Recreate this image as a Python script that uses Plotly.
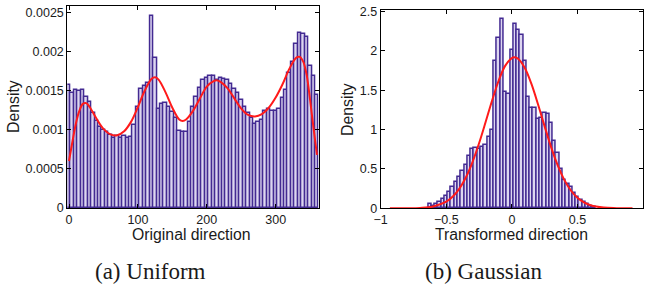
import plotly.graph_objects as go

# ---------------- data: (a) Uniform ----------------
uni_centers = list(range(0, 361, 5))
uni_density = [
    0.00157, 0.00147, 0.00151, 0.00149, 0.00151, 0.00142, 0.00136, 0.00121,
    0.00111, 0.00104, 0.00100, 0.00097, 0.00093, 0.00089, 0.00092, 0.00090,
    0.00092, 0.00089, 0.00091, 0.00106, 0.00129, 0.00152, 0.00156, 0.00160,
    0.00245, 0.00191, 0.00127, 0.00133, 0.00134, 0.00129, 0.00122, 0.00115,
    0.00098, 0.00097, 0.00097, 0.00110, 0.00129, 0.00142, 0.00153, 0.00163,
    0.00166, 0.00169, 0.00168, 0.00164, 0.00166, 0.00165, 0.00163, 0.00159,
    0.00152, 0.00147, 0.00138, 0.00129, 0.00121, 0.00115, 0.00107, 0.00110,
    0.00112, 0.00124, 0.00127, 0.00124, 0.00124, 0.00126, 0.00141, 0.00151,
    0.00173, 0.00187, 0.00210, 0.00223, 0.00222, 0.00219, 0.00181, 0.00168,
    0.00144,
]
uni_fit_x = [0, 5, 10, 15, 20, 25, 30, 40, 50, 60, 70, 80, 90, 100, 110, 120,
             125, 130, 140, 150, 160, 165, 170, 180, 190, 200, 210, 215, 220,
             230, 240, 250, 260, 270, 280, 290, 300, 310, 320, 330, 335, 340,
             345, 350, 355, 360]
uni_fit_y = [0.00060, 0.00085, 0.00108, 0.00124, 0.00133, 0.00134, 0.00129,
             0.00114, 0.00101, 0.00094, 0.00093, 0.00098, 0.00110, 0.00129,
             0.00150, 0.00165, 0.00167, 0.00164, 0.00148, 0.00128, 0.00113,
             0.00111, 0.00113, 0.00124, 0.00140, 0.00155, 0.00162, 0.00163,
             0.00161, 0.00153, 0.00140, 0.00127, 0.00119, 0.00117, 0.00120,
             0.00128, 0.00141, 0.00158, 0.00178, 0.00192, 0.00193, 0.00187,
             0.00170, 0.00138, 0.00102, 0.00068]
uni_yticks = [0, 0.0005, 0.001, 0.0015, 0.002, 0.0025]
uni_yticktext = ["0", "0.0005", "0.001", "0.0015", "0.002", "0.0025"]
uni_xticks = [0, 100, 200, 300]

# ---------------- data: (b) Gaussian ----------------
gau_centers = [-0.625, -0.600, -0.575, -0.550, -0.525, -0.500, -0.475, -0.450,
               -0.425, -0.400, -0.375, -0.350, -0.325, -0.300, -0.275, -0.250,
               -0.225, -0.200, -0.175, -0.150, -0.125, -0.100, -0.075, -0.050,
               -0.025, 0.000, 0.025, 0.050, 0.075, 0.100, 0.125, 0.150, 0.175,
               0.200, 0.225, 0.250, 0.275, 0.300, 0.325, 0.350, 0.375, 0.400,
               0.425, 0.450, 0.475, 0.500, 0.525, 0.550, 0.575, 0.600, 0.625]
gau_density = [0.055, 0.03, 0.05, 0.08, 0.12, 0.16, 0.21, 0.27, 0.33, 0.40,
               0.47, 0.55, 0.66, 0.76, 0.77, 0.76, 0.78, 0.80, 0.91, 0.99,
               1.87, 2.16, 2.40, 1.48, 1.45, 2.01, 2.34, 2.27, 2.20, 1.87,
               1.42, 1.27, 1.27, 1.14, 1.15, 1.21, 1.20, 1.08, 0.85, 0.70,
               0.50, 0.36, 0.31, 0.27, 0.20, 0.15, 0.11, 0.08, 0.05, 0.03, 0.02]
gau_fit_x = [-0.93, -0.8, -0.7, -0.6, -0.5, -0.45, -0.4, -0.35, -0.3, -0.25,
             -0.2, -0.15, -0.1, -0.05, 0.0, 0.02, 0.05, 0.1, 0.15, 0.2, 0.25,
             0.3, 0.35, 0.4, 0.45, 0.5, 0.55, 0.6, 0.7, 0.8, 0.92]
gau_fit_y = [0.0001, 0.0008, 0.005, 0.023, 0.084, 0.149, 0.250, 0.394, 0.587,
             0.826, 1.096, 1.373, 1.624, 1.813, 1.909, 1.918, 1.898, 1.781,
             1.578, 1.319, 1.041, 0.775, 0.545, 0.361, 0.226, 0.134, 0.075,
             0.039, 0.009, 0.002, 0.0001]
gau_yticks = [0, 0.5, 1, 1.5, 2, 2.5]
gau_yticktext = ["0", "0.5", "1", "1.5", "2", "2.5"]
gau_xticks = [-1, -0.5, 0, 0.5, 1]
gau_xticktext = ["\u22121", "\u22120.5", "0", "0.5", "1"]

# ---------------- styles ----------------
W, H = 645, 289
SANS = "Liberation Sans, Arial, sans-serif"
SERIF = "Liberation Serif, Times New Roman, serif"
EDGE = "#432a92"
FILL = "#ddd6f0"
RED = "#ff1a1a"
TXT = "#1a1a1a"

fig = go.Figure()

fig.add_trace(go.Bar(x=uni_centers, y=uni_density, width=5,
                     marker=dict(color=FILL, line=dict(color=EDGE, width=1.5)),
                     xaxis="x", yaxis="y", showlegend=False))
fig.add_trace(go.Scatter(x=uni_fit_x, y=uni_fit_y, mode="lines",
                         line=dict(color=RED, width=2, shape="spline"),
                         xaxis="x", yaxis="y", showlegend=False))
fig.add_trace(go.Bar(x=gau_centers, y=gau_density, width=0.025,
                     marker=dict(color=FILL, line=dict(color=EDGE, width=1.5)),
                     xaxis="x2", yaxis="y2", showlegend=False))
fig.add_trace(go.Scatter(x=gau_fit_x, y=gau_fit_y, mode="lines",
                         line=dict(color=RED, width=2, shape="spline"),
                         xaxis="x2", yaxis="y2", showlegend=False))


def px_x(p):
    return p / W


def px_y(p):
    return 1 - p / H


axis_common = dict(showline=True, linecolor="black", linewidth=1, mirror="ticks",
                   ticks="inside", ticklen=4, tickcolor="black", tickwidth=1,
                   showgrid=False, zeroline=False, automargin=False,
                   tickfont=dict(family=SANS, size=12.5, color=TXT))
title_font = dict(family=SANS, size=15.8, color=TXT)
cap_font = dict(family=SERIF, size=23, color=TXT)


def label(text, x, y, font, angle=0):
    return dict(text=text, x=px_x(x), y=px_y(y), xref="paper", yref="paper",
                showarrow=False, xanchor="center", yanchor="middle",
                textangle=angle, font=font, borderpad=0)


fig.update_layout(
    width=W, height=H, margin=dict(l=0, r=0, t=0, b=0),
    paper_bgcolor="white", plot_bgcolor="white", bargap=0,
    xaxis=dict(domain=[px_x(67.3), px_x(318.7)], range=[-2.5, 362.5],
               tickvals=uni_xticks, anchor="y", **axis_common),
    yaxis=dict(domain=[px_y(208), px_y(6)], range=[0, 0.00258],
               tickvals=uni_yticks, ticktext=uni_yticktext, anchor="x",
               **axis_common),
    xaxis2=dict(domain=[px_x(380.7), px_x(643)], range=[-1, 1],
                tickvals=gau_xticks, ticktext=gau_xticktext, anchor="y2",
                **axis_common),
    yaxis2=dict(domain=[px_y(208.3), px_y(10)], range=[0, 2.52],
                tickvals=gau_yticks, ticktext=gau_yticktext, anchor="x2",
                **axis_common),
    annotations=[
        label("Original direction", 191.3, 234, title_font),
        label("Transformed direction", 511.5, 234, title_font),
        label("Density", 13, 107, title_font, -90),
        label("Density", 347.5, 109.5, title_font, -90),
        label("(a) Uniform", 150.5, 271, cap_font),
        label("(b) Gaussian", 483, 271, cap_font),
    ],
)

fig.write_html(
    "out.html",
    config={"displayModeBar": False},
    post_script="document.body.style.margin='0';document.body.style.padding='0';",
)
